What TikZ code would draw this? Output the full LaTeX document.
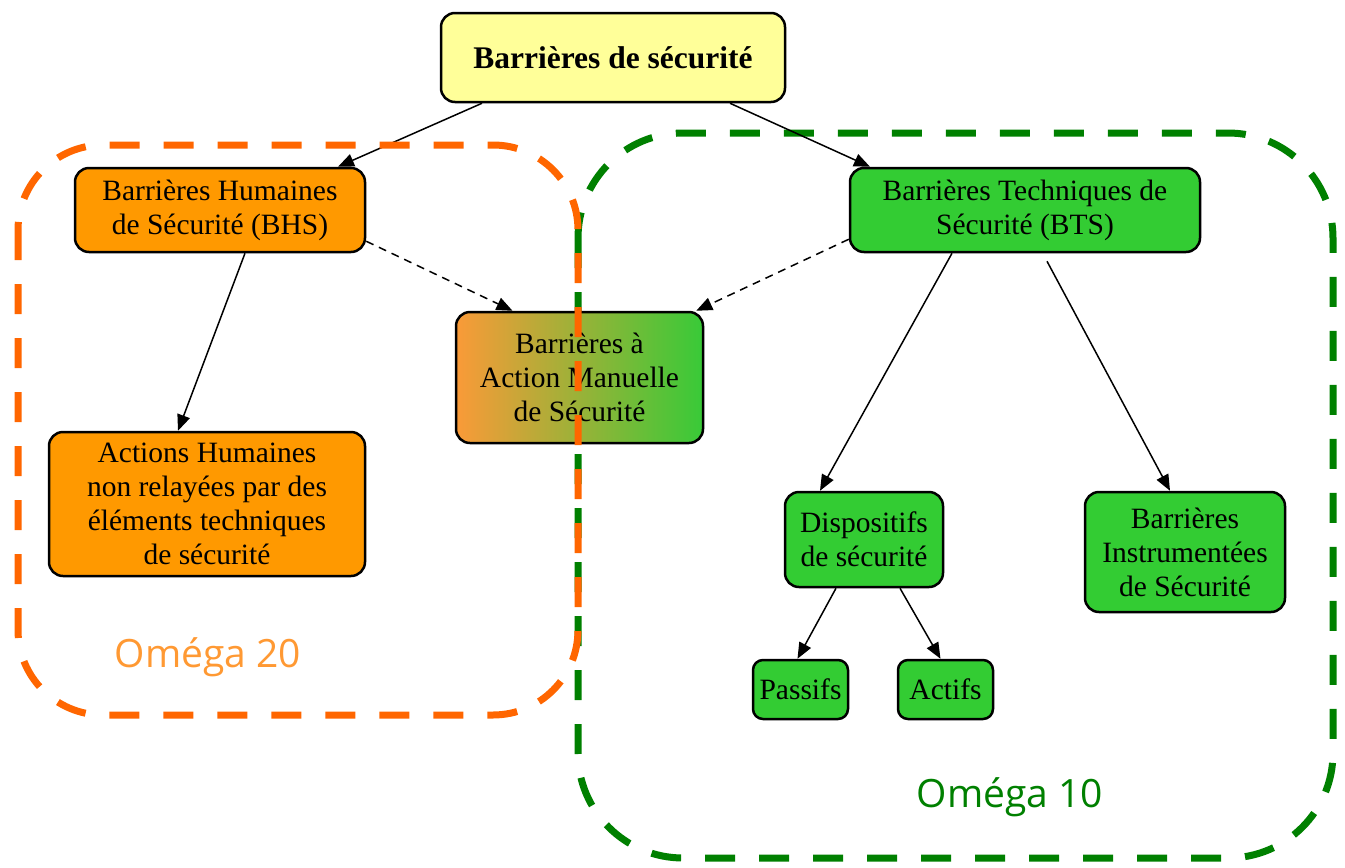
\documentclass[tikz,border=0pt]{standalone}
\usepackage{fontspec}
\setmainfont{Liberation Serif}
\newfontfamily\omegafont{Open Sans}
\usetikzlibrary{calc,arrows.meta}

\definecolor{boxyellow}{HTML}{FFFF99}
\definecolor{boxorange}{HTML}{FF9900}
\definecolor{boxgreen}{HTML}{33CC33}
\definecolor{mixleft}{HTML}{FA9A38}
\definecolor{mixright}{HTML}{38CA38}
\definecolor{zoneorange}{HTML}{FF6600}
\definecolor{zonegreen}{HTML}{008000}
\definecolor{labelorange}{HTML}{FF9933}

\begin{document}
\begin{tikzpicture}[x=1pt,y=-1pt,
  box/.style={draw=black, line width=2.5pt, rounded corners=14pt, inner sep=0pt,
    align=center, font=\fontsize{29.5}{34}\selectfont},
  arr/.style={line width=1.5pt, -{Triangle[length=16pt,width=13pt]}},
  dasharr/.style={arr, dash pattern=on 8pt off 6pt},
  zone/.style={line width=7pt, dash pattern=on 30pt off 24pt},
  zonelabel/.style={font=\omegafont\fontsize{39}{41}\selectfont}
]
\useasboundingbox (0,0) rectangle (1345,868);

% Omega 10 zone (behind the boxes)
\draw[zone, draw=zonegreen, rounded corners=105pt] (578,133) rectangle (1333,858);
\node[zonelabel, text=zonegreen] (om10) at (1010,797) {Oméga 10};

% boxes
\node[box, fill=boxyellow, minimum width=344pt, minimum height=89pt,
      font=\fontsize{31.5}{35}\selectfont\bfseries] (title) at (613,57.5) {Barrières de sécurité};
\node[box, fill=boxorange, minimum width=290pt, minimum height=84pt] (bhs) at (220,210)
  {Barrières Humaines\\de Sécurité (BHS)};
\node[box, fill=boxgreen, minimum width=350pt, minimum height=84pt] (bts) at (1025,210)
  {Barrières Techniques de\\Sécurité (BTS)};
\node[box, left color=mixleft, right color=mixright, minimum width=247pt, minimum height=131pt]
  (bams) at (579.5,377.5) {Barrières à\\Action Manuelle\\de Sécurité};
\node[box, fill=boxorange, minimum width=316pt, minimum height=144pt] (ah) at (207,504)
  {Actions Humaines\\non relayées par des\\éléments techniques\\de sécurité};
\node[box, fill=boxgreen, minimum width=158pt, minimum height=95pt] (disp) at (864,539.5)
  {Dispositifs\\de sécurité};
\node[box, fill=boxgreen, minimum width=200pt, minimum height=120pt] (bis) at (1185,552)
  {Barrières\\Instrumentées\\de Sécurité};
\node[box, fill=boxgreen, minimum width=95pt, minimum height=59pt, rounded corners=10pt]
  (pas) at (800.5,689.5) {Passifs};
\node[box, fill=boxgreen, minimum width=95pt, minimum height=59pt, rounded corners=10pt]
  (act) at (945.5,689.5) {Actifs};

% connectors
\draw[arr] ($(title.south)+(-131,0)$) -- ($(bhs.north)+(118,0)$);
\draw[arr] ($(title.south)+(117,0)$) -- ($(bts.north)+(-155,0)$);
\draw[dasharr] ($(bhs.south east)+(0,-12)$) -- ($(bams.north)+(-67,0)$);
\draw[dasharr] ($(bts.south west)+(0,-14)$) -- ($(bams.north east)+(-8,0)$);
\draw[arr] ($(bhs.south)+(25,0)$) -- ($(ah.north)+(-29,0)$);
\draw[arr] ($(bts.south)+(-73,0)$) -- ($(disp.north)+(-44,0)$);
\draw[arr] ($(bts.south)+(22,8)$) -- ($(bis.north)+(-15,0)$);
\draw[arr] ($(disp.south)+(-28,0)$) -- ($(pas.north)+(-3,0)$);
\draw[arr] ($(disp.south)+(36,0)$) -- ($(act.north)+(-5,0)$);

% Omega 20 zone (drawn over the shared box)
\draw[zone, draw=zoneorange, rounded corners=85pt] (18,145) rectangle (578,715);
\node[zonelabel, text=labelorange] (om20) at (208,657) {Oméga 20};
\end{tikzpicture}
\end{document}
